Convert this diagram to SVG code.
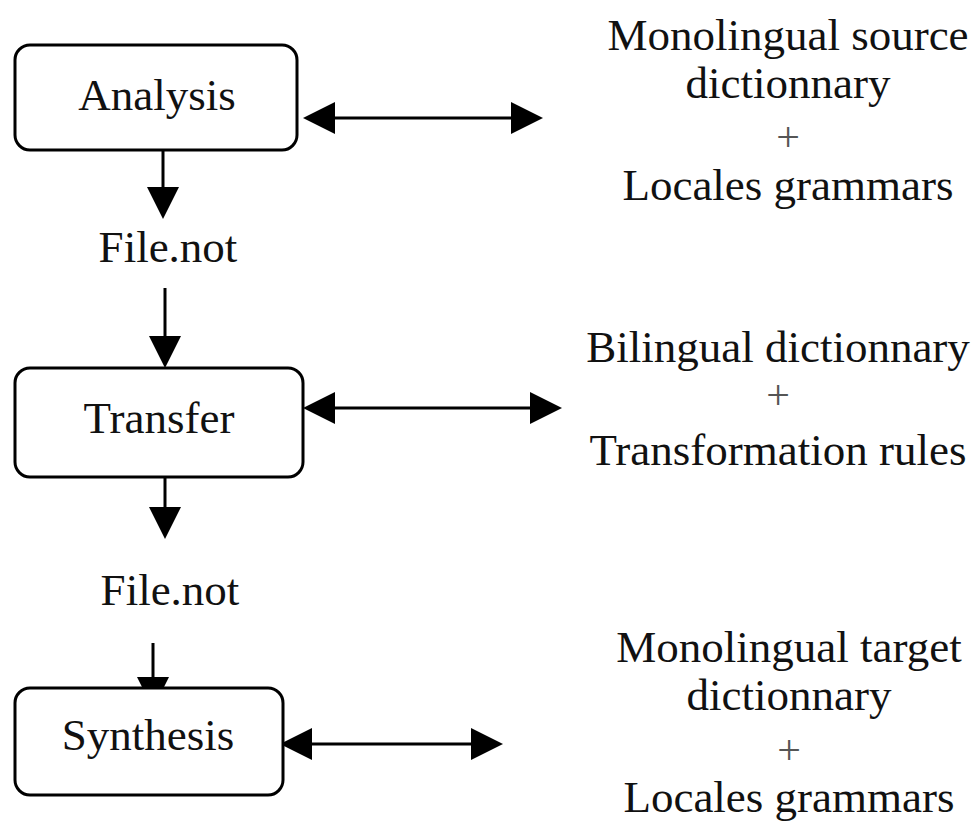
<svg xmlns="http://www.w3.org/2000/svg" width="972" height="823" viewBox="0 0 972 823">
<style>
  .box { fill: #ffffff; stroke: #000000; stroke-width: 3; }
  .t { font-family: "Liberation Serif", "Times New Roman", serif; font-size: 45px; fill: #111111; text-anchor: middle; }
  .plus { font-family: "Liberation Serif", "Times New Roman", serif; font-size: 42px; fill: #555555; text-anchor: middle; }
  .line { stroke: #000000; stroke-width: 3; fill: none; }
  .one { marker-end: url(#head); }
  .two { marker-start: url(#head); marker-end: url(#head); }
</style>
<defs>
  <marker id="head" viewBox="0 0 32 32" refX="0" refY="16" markerWidth="32" markerHeight="32" markerUnits="userSpaceOnUse" orient="auto-start-reverse">
    <path d="M0,0 L32,16 L0,32 Z" fill="#000000"/>
  </marker>
</defs>
<rect width="972" height="823" fill="#ffffff"/>
<g id="connectors">
  <line class="line one" x1="163" y1="150" x2="163" y2="187"/>
  <line class="line one" x1="165" y1="288" x2="165" y2="336"/>
  <line class="line one" x1="165" y1="477" x2="165" y2="507"/>
  <line class="line one" x1="153" y1="643" x2="153" y2="677"/>
  <line class="line two" x1="335" y1="118" x2="511" y2="118"/>
  <line class="line two" x1="335" y1="408" x2="530" y2="408"/>
  <line class="line two" x1="312" y1="744" x2="471" y2="744"/>
</g>
<g id="analysis">
  <rect class="box" x="15" y="45" width="282" height="105" rx="15"/>
  <text class="t" x="157" y="110">Analysis</text>
</g>
<g id="file1">
  <text class="t" x="168" y="262">File.not</text>
</g>
<g id="transfer">
  <rect class="box" x="15" y="368" width="288" height="109" rx="15"/>
  <text class="t" x="159" y="433">Transfer</text>
</g>
<g id="file2">
  <text class="t" x="170" y="605">File.not</text>
</g>
<g id="synthesis">
  <rect class="box" x="15" y="688" width="268" height="107" rx="15"/>
  <text class="t" x="148" y="750">Synthesis</text>
</g>
<g id="resources-source">
  <text class="t" x="788" y="50">Monolingual source</text>
  <text class="t" x="788" y="98">dictionnary</text>
  <text class="plus" x="788" y="151">+</text>
  <text class="t" x="788" y="200">Locales grammars</text>
</g>
<g id="resources-transfer">
  <text class="t" x="778" y="362">Bilingual dictionnary</text>
  <text class="plus" x="778" y="409">+</text>
  <text class="t" x="778" y="465">Transformation rules</text>
</g>
<g id="resources-target">
  <text class="t" x="789" y="662">Monolingual target</text>
  <text class="t" x="789" y="710">dictionnary</text>
  <text class="plus" x="789" y="764">+</text>
  <text class="t" x="789" y="812">Locales grammars</text>
</g>
</svg>
